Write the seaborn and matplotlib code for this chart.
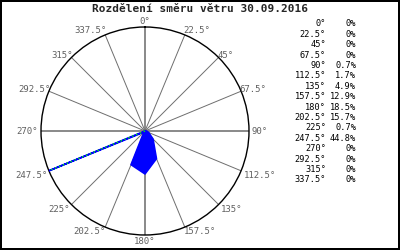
import numpy as np
import pandas as pd
import matplotlib
matplotlib.use("Agg")
import matplotlib.pyplot as plt
import seaborn as sns

directions = [0, 22.5, 45, 67.5, 90, 112.5, 135, 157.5, 180, 202.5, 225, 247.5, 270, 292.5, 315, 337.5]
percents = [0, 0, 0, 0, 0.7, 1.7, 4.9, 12.9, 18.5, 15.7, 0.7, 44.8, 0, 0, 0, 0]
dir_labels = ["0°", "22.5°", "45°", "67.5°", "90°", "112.5°", "135°", "157.5°",
              "180°", "202.5°", "225°", "247.5°", "270°", "292.5°", "315°", "337.5°"]
title = "Rozdělení směru větru 30.09.2016"

sns.set_style("white")
plt.rcParams['font.family'] = ['DejaVu Sans Mono', 'DejaVu Sans']

fig = plt.figure(figsize=(4, 2.5), dpi=100)
fig.patch.set_facecolor("white")
fig.patch.set_edgecolor("black")
fig.patch.set_linewidth(1.5)

ax = fig.add_axes([0.1025, 0.06, 0.52, 0.832], projection="polar")
ax.set_theta_zero_location("N")
ax.set_theta_direction(-1)

theta = np.deg2rad(directions + [directions[0] + 360])
r = percents + [percents[0]]
df = pd.DataFrame({"theta": theta, "r": r})
rmax = max(percents)

ax.fill(df["theta"], df["r"], color="#0000ff", lw=0, zorder=3)
sns.lineplot(data=df, x="theta", y="r", ax=ax, color="#0000ff", lw=1.2, sort=False,
             estimator=None, zorder=4)
# green dotted overlay along the dominant direction spike
imax = int(np.argmax(percents))
ax.plot([np.deg2rad(directions[imax])] * 2, [0, percents[imax]],
        color="#00ff00", lw=1.0, ls=(0, (1, 2)), zorder=5)

ax.set_ylim(0, rmax)
ax.set_yticks([])
ax.set_xticks(np.deg2rad(directions))
ax.set_xticklabels([])
ax.grid(False)
for d in directions:
    main = d % 90 == 0
    ax.plot([np.deg2rad(d), np.deg2rad(d)], [0, rmax],
            color="#808080" if main else "#6e6e6e", lw=1.3 if main else 0.7, zorder=2)
ax.spines["polar"].set_color("black")
ax.spines["polar"].set_linewidth(1.0)
ax.set_xlabel("")
ax.set_ylabel("")

for d, lab in zip(directions, dir_labels):
    if d == 0:
        ha, va, off = "center", "bottom", (0, 1)
    elif d < 90:
        ha, va, off = "left", "bottom", (-1, 0 if d == 22.5 else -2)
    elif d == 90:
        ha, va, off = "left", "center", (2, 0)
    elif d < 180:
        ha, va, off = "left", "top", (-1 if d == 157.5 else 2, 0)
    elif d == 180:
        ha, va, off = "center", "top", (0, -1.5)
    elif d < 270:
        ha, va, off = "right", "top", (0 if d == 202.5 else -1, 0)
    elif d == 270:
        ha, va, off = "right", "center", (-2, 0)
    else:
        ha, va, off = "right", "bottom", (1, 0 if d == 337.5 else -2)
    ax.annotate(lab, xy=(np.deg2rad(d), rmax), xytext=off, textcoords="offset points",
                ha=ha, va=va, fontsize=6.5, color="#606060", annotation_clip=False)

fig.text(0.5, 0.965, title, ha="center", va="center", fontsize=8, fontweight="bold")

y0 = 1 - 24 / 250
dy = 10.4 / 250
for i, (lab, p) in enumerate(zip(dir_labels, percents)):
    y = y0 - i * dy
    fig.text(326 / 400, y, lab, ha="right", va="center", fontsize=6.2, color="black")
    txt = "0%" if p == 0 else f"{p:.1f}%"
    fig.text(356 / 400, y, txt, ha="right", va="center", fontsize=6.2, color="black")

fig.savefig("out.png", dpi=100, facecolor=fig.get_facecolor(), edgecolor=fig.get_edgecolor())
